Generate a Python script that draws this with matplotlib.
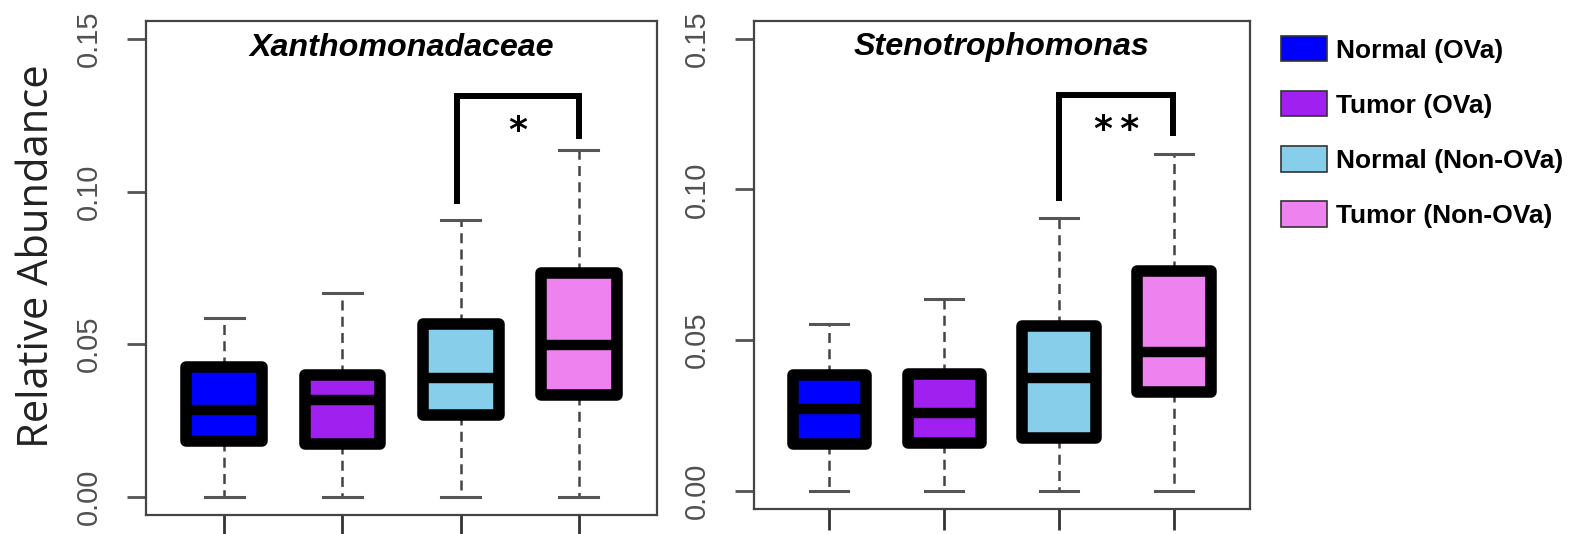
import matplotlib
matplotlib.use("Agg")
import matplotlib.pyplot as plt
from matplotlib.patches import Patch

plt.rcParams["font.family"] = ["Liberation Sans", "DejaVu Sans"]

# groups and colours (R: blue, purple, skyblue, violet)
groups = ["Normal (OVa)", "Tumor (OVa)", "Normal (Non-OVa)", "Tumor (Non-OVa)"]
colors = ["#0000FF", "#A020F0", "#87CEEB", "#EE82EE"]

# box statistics: whisker low, q1, median, q3, whisker high
xan_lo = [0.0, 0.0, 0.0, 0.0]
xan_q1 = [0.0184, 0.0172, 0.0269, 0.0332]
xan_med = [0.0283, 0.0316, 0.0390, 0.0496]
xan_q3 = [0.0424, 0.0400, 0.0567, 0.0733]
xan_hi = [0.0587, 0.0668, 0.0908, 0.1137]

sten_lo = [0.0, 0.0, 0.0, 0.0]
sten_q1 = [0.0155, 0.0158, 0.0174, 0.0329]
sten_med = [0.0271, 0.0260, 0.0375, 0.0462]
sten_q3 = [0.0383, 0.0387, 0.0548, 0.0728]
sten_hi = [0.0554, 0.0636, 0.0907, 0.1117]

# significance brackets: x left/right, left foot, top, right foot, label
xan_bracket = [2.97, 4.0, 0.0958, 0.1314, 0.1173, "*"]
sten_bracket = [3.0, 3.99, 0.0961, 0.1314, 0.1178, "*\u2009*"]

yticks = [0.0, 0.05, 0.10, 0.15]
ytick_labels = ["0.00", "0.05", "0.10", "0.15"]

W, H = 1579, 534
fig = plt.figure(figsize=(W / 100, H / 100), dpi=100)


def panel(rect, title, lo, q1, med, q3, hi, bracket):
    ax = fig.add_axes(rect)
    stats = [{"whislo": lo[i], "q1": q1[i], "med": med[i], "q3": q3[i], "whishi": hi[i]}
             for i in range(len(groups))]
    bp = ax.bxp(stats, positions=[1, 2, 3, 4], widths=0.64, capwidths=0.33,
                patch_artist=True, showfliers=False,
                boxprops=dict(edgecolor="black", linewidth=8.3, zorder=3),
                medianprops=dict(color="black", linewidth=7.5, solid_capstyle="butt", zorder=4),
                whiskerprops=dict(color="#444444", linewidth=1.8, linestyle=(0, (4, 2.5)), zorder=1),
                capprops=dict(color="#555555", linewidth=2.2, zorder=1))
    for box, c in zip(bp["boxes"], colors):
        box.set_facecolor(c)
        box.set_joinstyle("round")

    ax.set_xlim(0.34, 4.66)
    ax.set_ylim(-0.006, 0.156)
    ax.set_xticks([1, 2, 3, 4])
    ax.set_xticklabels([""] * 4)
    ax.set_yticks(yticks)
    ax.set_yticklabels(ytick_labels)
    ax.tick_params(axis="x", length=15, width=2, color="#333333", direction="out")
    ax.tick_params(axis="y", length=14, width=2, color="#555555", pad=17,
                   labelsize=21, labelcolor="#505050", labelrotation=90)
    for lab in ax.get_yticklabels():
        lab.set_va("center")
    for sp in ax.spines.values():
        sp.set_color("#444444")
        sp.set_linewidth(1.6)

    ax.text(2.5, 0.1472, title, ha="center", va="center", fontsize=23.2,
            fontweight="bold", fontstyle="italic")

    xl, xr, yl, yt, yr, lab = bracket
    ax.plot([xl, xl, xr, xr], [yl, yt, yt, yr], color="black", linewidth=4.3,
            solid_joinstyle="miter", solid_capstyle="butt")
    ax.text((xl + xr) / 2, 0.1165, lab, ha="center", va="baseline", fontsize=26,
            fontweight="bold", family="DejaVu Sans")
    return ax


panel([146.2 / W, (H - 515) / H, (657 - 146.2) / W, (515 - 20.7) / H],
      "Xanthomonadaceae", xan_lo, xan_q1, xan_med, xan_q3, xan_hi, xan_bracket)
panel([753.6 / W, (H - 509) / H, (1250 - 753.6) / W, (509 - 20.7) / H],
      "Stenotrophomonas", sten_lo, sten_q1, sten_med, sten_q3, sten_hi, sten_bracket)

fig.text(37 / W, (H - 256) / H, "Relative Abundance", rotation=90, ha="center",
         va="center", fontsize=30, family="Open Sans", color="#222222")

handles = [Patch(facecolor=c, edgecolor="#333333", linewidth=1.2) for c in colors]
fig.legend(handles, groups, loc="upper left", bbox_to_anchor=(1280.7 / W, (H - 36) / H),
           frameon=False, borderpad=0, borderaxespad=0, handlelength=1.77,
           handleheight=1.1, handletextpad=0.33, labelspacing=1.08,
           prop=dict(size=19, weight="bold"))

fig.savefig("out.png", dpi=100)
